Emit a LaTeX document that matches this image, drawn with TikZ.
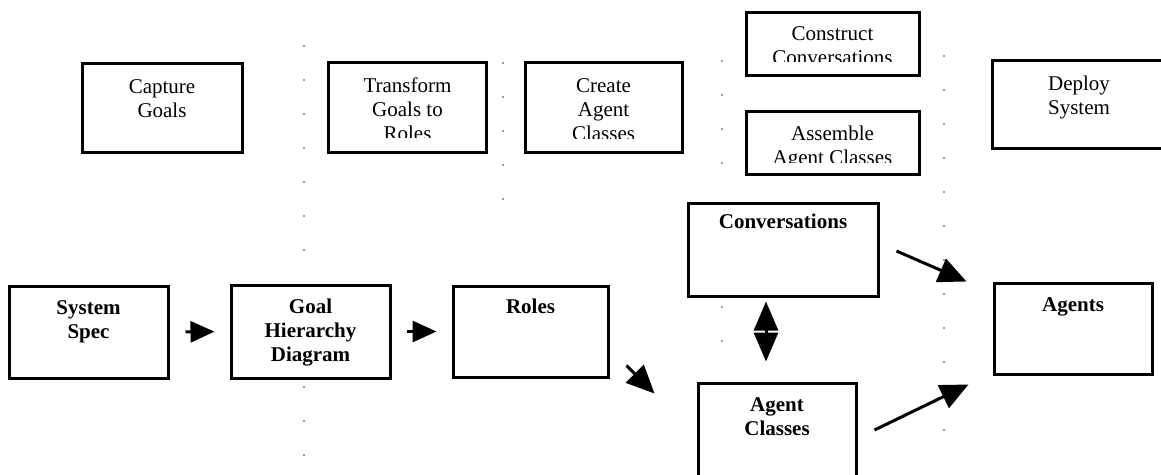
\documentclass[tikz,border=0pt]{standalone}
\usepackage{fontspec}
\setmainfont{Liberation Serif}
\usetikzlibrary{arrows.meta,calc}
\begin{document}
\begin{tikzpicture}[x=1pt,y=1pt,
  box/.style={draw, line width=3pt, rectangle, inner sep=0pt},
  lbl/.style={align=center, font=\fontsize{21}{24}\selectfont, inner sep=0pt, anchor=base},
  blbl/.style={align=center, font=\fontsize{21}{24}\selectfont\bfseries, inner sep=0pt, anchor=base},
  arr/.style={line width=3pt, -{Triangle[length=24pt,width=21pt]}},
  darr/.style={line width=3pt, -{Triangle[length=28pt,width=25pt]}},
  dbl/.style={line width=3pt, {Triangle[length=29pt,width=24pt]}-{Triangle[length=29pt,width=24pt]}},
  sep/.style={black!40, line width=1.2pt, dash pattern=on 2pt off 32pt}]
\clip (0,0) rectangle (1161,-474);
\fill[white] (0,0) rectangle (1161,-474);

% separators
\coordinate (s1a) at (304,-45);  \coordinate (s1b) at (304,-270);
\coordinate (s1c) at (304,-386); \coordinate (s1d) at (304,-470);
\coordinate (s2a) at (503,-62);  \coordinate (s2b) at (503,-230);
\coordinate (s3a) at (722,-60);  \coordinate (s3b) at (722,-195);
\coordinate (s3c) at (722,-306); \coordinate (s3d) at (722,-372);
\coordinate (s4a) at (944,-55);  \coordinate (s4b) at (944,-460);
\draw[sep] (s1a) -- (s1b);
\draw[sep] (s1c) -- (s1d);
\draw[sep] (s2a) -- (s2b);
\draw[sep] (s3a) -- (s3b);
\draw[sep] (s3c) -- (s3d);
\draw[sep] (s4a) -- (s4b);

% top row boxes
\node[box, minimum width=160pt, minimum height=89pt] (cap) at (162,-107.5) {};
\node[box, minimum width=158pt, minimum height=90pt] (trans) at (407.5,-107) {};
\node[box, minimum width=157pt, minimum height=90pt] (create) at (603.5,-107) {};
\node[box, minimum width=173pt, minimum height=63pt] (construct) at (832.5,-43.5) {};
\node[box, minimum width=173pt, minimum height=63pt] (assemble) at (832.5,-142.5) {};
\node[box, minimum width=174pt, minimum height=88pt] (deploy) at (1079,-104) {};

\node[lbl] (capT) at ($(cap.north)+(0,-56)$) {Capture\\Goals};
\begin{scope}
\clip (trans.north west) rectangle ($(trans.north east)+(0,-77)$);
\node[lbl] (transT) at ($(trans.north)+(0,-80)$) {Transform\\Goals to\\Roles};
\end{scope}
\begin{scope}
\clip (create.north west) rectangle ($(create.north east)+(0,-78)$);
\node[lbl] (createT) at ($(create.north)+(0,-80)$) {Create\\Agent\\Classes};
\end{scope}
\begin{scope}
\clip (construct.north west) rectangle ($(construct.north east)+(0,-51)$);
\node[lbl] (constructT) at ($(construct.north)+(0,-54)$) {Construct\\Conversations};
\end{scope}
\begin{scope}
\clip (assemble.north west) rectangle ($(assemble.north east)+(0,-53)$);
\node[lbl] (assembleT) at ($(assemble.north)+(0,-55)$) {Assemble\\Agent Classes};
\end{scope}
\node[lbl] (deployT) at ($(deploy.north)+(0,-56)$) {Deploy\\System};

% bottom row boxes
\node[box, minimum width=159pt, minimum height=92pt] (spec) at (88.5,-332) {};
\node[box, minimum width=159pt, minimum height=93pt] (goal) at (310.5,-331.5) {};
\node[box, minimum width=155pt, minimum height=91pt] (roles) at (530.5,-331.5) {};
\node[box, minimum width=190pt, minimum height=93pt] (conv) at (783,-249.5) {};
\node[box, minimum width=158pt, minimum height=97pt] (agcl) at (777,-431.5) {};
\node[box, minimum width=158pt, minimum height=91pt] (agents) at (1073,-328.5) {};

\node[blbl] (specT) at ($(spec.north)+(0,-54)$) {System\\Spec};
\node[blbl] (goalT) at ($(goal.north)+(0,-78)$) {Goal\\Hierarchy\\Diagram};
\node[blbl] (rolesT) at ($(roles.north)+(0,-29)$) {Roles};
\node[blbl] (convT) at ($(conv.north)+(0,-27)$) {Conversations};
\node[blbl] (agclT) at ($(agcl.north)+(0,-54)$) {Agent\\Classes};
\node[blbl] (agentsT) at ($(agents.north)+(0,-30)$) {Agents};

% connectors
\draw[arr, shorten <=16pt, shorten >=15pt] (spec.east) -- (goal.west);
\draw[arr, shorten <=15pt, shorten >=15pt] (goal.east) -- (roles.west);
\draw[darr] ($(roles.south east)+(17,13)$) -- ($(agcl.north west)+(-42,-12)$);
\draw[dbl] ($(conv.south)+(-17,-4)$) -- ($(agcl.north)+(-11,20)$);
\draw[darr] ($(conv.east)+(17,-1.5)$) -- ($(agents.north west)+(-26,0)$);
\draw[darr] ($(agcl.east)+(17,1.5)$) -- ($(agents.south west)+(-24,-9)$);
\end{tikzpicture}
\end{document}
